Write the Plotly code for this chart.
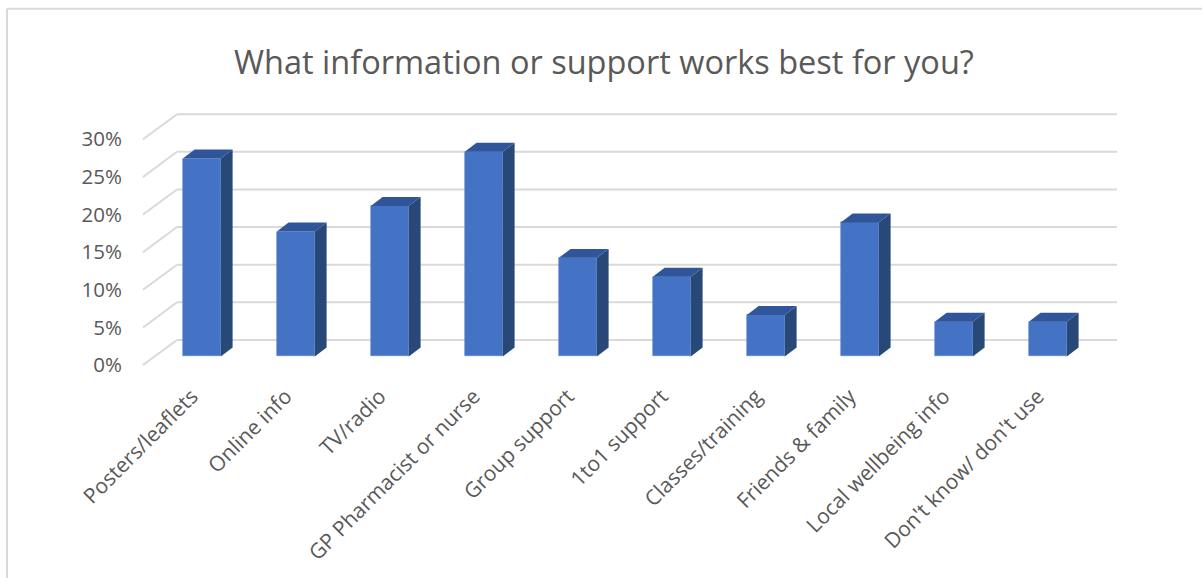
import plotly.graph_objects as go

# ---- data -------------------------------------------------------------
categories = [
    "Posters/leaflets", "Online info", "TV/radio", "GP Pharmacist or nurse",
    "Group support", "1to1 support", "Classes/training", "Friends & family",
    "Local wellbeing info", "Don't know/ don't use",
]
shares = [0.263, 0.166, 0.200, 0.272, 0.131, 0.106, 0.055, 0.178, 0.046, 0.046]
tick_values = [0.0, 0.05, 0.10, 0.15, 0.20, 0.25, 0.30]

# ---- page / plot-area geometry (pixels) -------------------------------
W, H = 1202, 578
PL, PR, PT, PB = 130, 1130, 100, 375          # plot area edges
CAT_PX = 94.0                                  # pixels per category step
CAT0_PX = 201.8                                # centre of first category (bar front plane)
UNIT_PX = 758.0                                # pixels per 1.0 on the value axis
ZERO_FRONT_PLANE = 358.3                       # y of 0 at the bars' front faces
ZERO_FRONT_EDGE = 367.0                        # y of 0 at the front edge of the floor

# oblique depth offsets (dx px, dy px upward)
WALL_OFF = (22.2, 16.6)      # bar front plane -> back wall
EDGE_OFF = (-11.8, -8.7)     # bar front plane -> front edge of floor
BAR_OFF = (11.8, 9.0)        # depth of each bar
BAR_W = 38.0 / CAT_PX


def dx(px):
    return px / CAT_PX


def dy(px):
    return px / UNIT_PX


def px_x(p):
    """page pixel -> paper x"""
    return (p - PL) / (PR - PL)


def px_y(p):
    """page pixel -> paper y"""
    return (PB - p) / (PB - PT)


x_range = [(PL - CAT0_PX) / CAT_PX, (PR - CAT0_PX) / CAT_PX]
y_range = [(ZERO_FRONT_PLANE - PB) / UNIT_PX, (ZERO_FRONT_PLANE - PT) / UNIT_PX]
y2_range = [(ZERO_FRONT_EDGE - PB) / UNIT_PX, (ZERO_FRONT_EDGE - PT) / UNIT_PX]

FRONT = "#4472C4"
SIDE = "#284878"
TOP = "#30559A"
GRID = "#D9D9D9"
TEXT = "#595959"

idx = list(range(len(categories)))

fig = go.Figure()

# front faces of the bars
fig.add_trace(go.Bar(
    x=idx, y=shares, width=BAR_W,
    marker=dict(color=FRONT, line=dict(color="#5B86D0", width=0.6)),
    showlegend=False, hoverinfo="x+y",
))
# carrier for the value labels placed at the floor's front edge
fig.add_trace(go.Scatter(x=[None], y=[None], yaxis="y2", showlegend=False,
                         hoverinfo="skip"))

shapes = []
first = -0.5
last = len(categories) - 0.5

# back-wall gridlines and the left-wall diagonals
for g in tick_values:
    wx0 = first + dx(WALL_OFF[0])
    wx1 = last + dx(WALL_OFF[0])
    wy = g + dy(WALL_OFF[1])
    shapes.append(dict(type="line", xref="x", yref="y", x0=wx0, x1=wx1,
                       y0=wy, y1=wy, line=dict(color=GRID, width=2),
                       layer="below"))
    shapes.append(dict(type="line", xref="x", yref="y",
                       x0=first + dx(EDGE_OFF[0]), y0=g + dy(EDGE_OFF[1]),
                       x1=wx0, y1=wy, line=dict(color=GRID, width=2),
                       layer="below"))

# side and top faces of each bar
bdx, bdy = dx(BAR_OFF[0]), dy(BAR_OFF[1])
for i, v in zip(idx, shares):
    xl, xr = i - BAR_W / 2, i + BAR_W / 2
    side = (f"M {xr},0 L {xr + bdx},{bdy} L {xr + bdx},{v + bdy} "
            f"L {xr},{v} Z")
    top = (f"M {xl},{v} L {xr},{v} L {xr + bdx},{v + bdy} "
           f"L {xl + bdx},{v + bdy} Z")
    shapes.append(dict(type="path", xref="x", yref="y", path=side,
                       fillcolor=SIDE, line=dict(width=0), layer="above"))
    shapes.append(dict(type="path", xref="x", yref="y", path=top,
                       fillcolor=TOP, line=dict(width=0), layer="above"))

# chart frame
shapes.append(dict(type="line", xref="paper", yref="paper",
                   x0=px_x(7), x1=px_x(W + 5), y0=px_y(8), y1=px_y(8),
                   line=dict(color=GRID, width=2)))
shapes.append(dict(type="line", xref="paper", yref="paper",
                   x0=px_x(7), x1=px_x(7), y0=px_y(8), y1=px_y(H + 5),
                   line=dict(color=GRID, width=2)))

fig.update_layout(
    width=W, height=H,
    margin=dict(l=PL, r=W - PR, t=PT, b=H - PB, pad=0),
    paper_bgcolor="white", plot_bgcolor="white",
    font=dict(family="Open Sans", color=TEXT, size=20),
    title=dict(text="What information or support works best for you?",
               x=px_x(604), xanchor="center", xref="paper",
               y=1 - 63 / H, yanchor="middle", yref="container",
               font=dict(family="Open Sans", size=32.5, color=TEXT)),
    xaxis=dict(range=x_range, tickvals=idx, ticktext=categories,
               tickangle=-45, showgrid=False, zeroline=False,
               showline=False, ticks="", fixedrange=True,
               ticklabelshift=-10, ticklabelstandoff=6,
               tickfont=dict(size=21, color=TEXT)),
    yaxis=dict(range=y_range, visible=False, fixedrange=True),
    yaxis2=dict(range=y2_range, overlaying="y", side="left",
                tickvals=tick_values, tickformat=".0%", showgrid=False,
                zeroline=False, showline=False, ticks="",
                ticklabelstandoff=7, fixedrange=True,
                tickfont=dict(size=20.5, color=TEXT)),
    shapes=shapes,
    bargap=0,
)

fig.write_html("out.html")
